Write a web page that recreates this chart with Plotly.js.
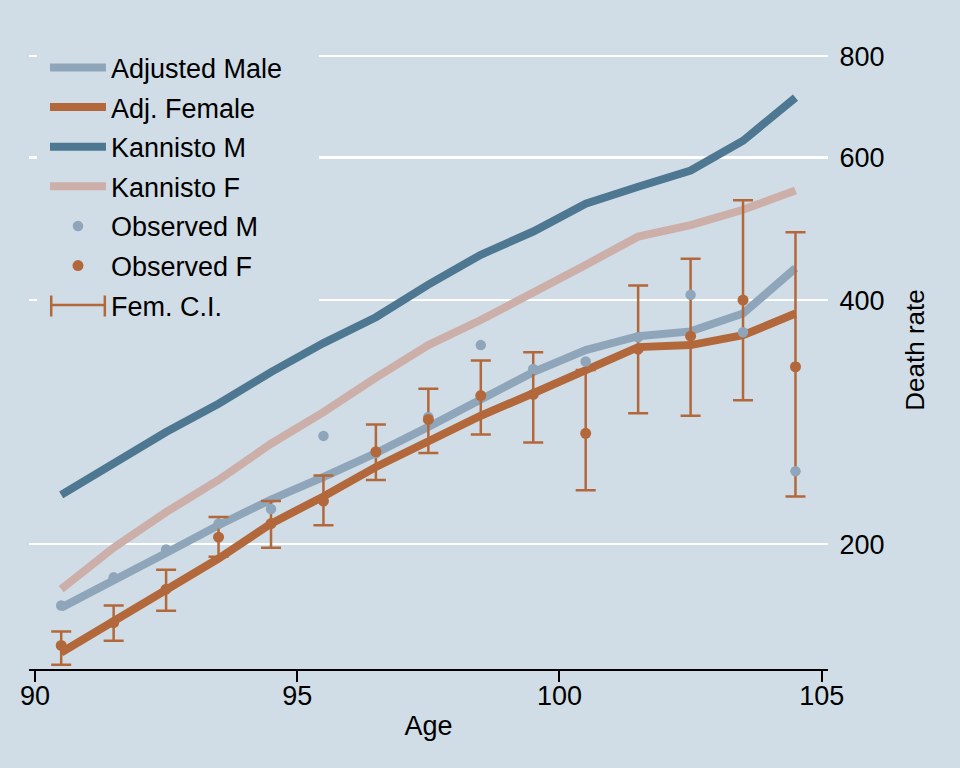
<!DOCTYPE html>
<html>
<head>
<meta charset="utf-8">
<script src="https://cdn.plot.ly/plotly-3.0.1.min.js"></script>
<style>
  html, body { margin: 0; padding: 0; background: #d0dde6; }
  #chart { width: 960px; height: 768px; }
</style>
</head>
<body>
<div id="chart"></div>
<script>
// ---- data ----
const age = [90.5, 91.5, 92.5, 93.5, 94.5, 95.5, 96.5, 97.5, 98.5, 99.5, 100.5, 101.5, 102.5, 103.5, 104.5];

const adjustedMale = [167, 181, 195, 211, 227, 242, 259, 279, 302, 326, 347, 361, 366, 385, 438];
const adjFemale    = [147, 161, 176, 192, 212, 229, 249, 268, 288, 307, 328, 350, 352, 362, 385];
const kannistoM    = [230, 251, 275, 298, 326, 354, 381, 418, 455, 486, 526, 552, 578, 629, 711];
const kannistoF    = [176, 198, 219, 240, 266, 291, 321, 352, 378, 410, 442, 479, 495, 517, 546];
const observedM    = [168, 182, 197, 212, 221, 272, 259, 287, 352, 329, 336, 360, 406, 365, 246];
const observedF    = [150, 160, 176, 204, 212, 226, 260, 285, 305, 306, 274, 348, 361, 400, 331];
const femCILow     = [142, 152, 165.5, 193, 198, 211, 240, 259, 273, 267, 233, 290, 288, 301, 229];
const femCIHigh    = [156, 168, 186, 216, 226, 243, 281, 311, 337, 345, 328, 417, 450, 531, 485];

const xTicks = [90, 95, 100, 105];
const yTicks = [200, 400, 600, 800];
const yTickText = ['200', '400', '600', '800'];

const seriesNames = ['Adjusted Male', 'Adj. Female', 'Kannisto M', 'Kannisto F', 'Observed M', 'Observed F', 'Fem. C.I.'];

// ---- styles ----
const BG = '#d0dde6';
const C_ADJM = '#8fa6ba';
const C_ADJF = '#b3683b';
const C_KM = '#4e7891';
const C_KF = '#ccafa9';
const LW = 8;
const FONT = 'Liberation Sans, Arial, Helvetica, sans-serif';

const ciPlus = femCIHigh.map((h, i) => h - observedF[i]);
const ciMinus = femCILow.map((l, i) => observedF[i] - l);

const traces = [
  { x: age, y: kannistoM, name: seriesNames[2], mode: 'lines', line: { color: C_KM, width: LW }, legendrank: 3, legendgroup: 'g3' },
  { x: age, y: kannistoF, name: seriesNames[3], mode: 'lines', line: { color: C_KF, width: LW }, legendrank: 4, legendgroup: 'g4' },
  { x: age, y: adjustedMale, name: seriesNames[0], mode: 'lines', line: { color: C_ADJM, width: LW }, legendrank: 1, legendgroup: 'g1' },
  { x: age, y: adjFemale, name: seriesNames[1], mode: 'lines', line: { color: C_ADJF, width: LW }, legendrank: 2, legendgroup: 'g2' },
  { x: age, y: observedF, name: seriesNames[6], mode: 'markers', marker: { size: 1, opacity: 0, color: C_ADJF },
    error_y: { type: 'data', symmetric: false, array: ciPlus, arrayminus: ciMinus, color: C_ADJF, thickness: 2.5, width: 10 },
    showlegend: false, hoverinfo: 'skip' },
  { x: [null], y: [null], name: seriesNames[6], mode: 'lines', line: { color: C_ADJF, width: 2.5 }, legendrank: 7, legendgroup: 'g7' },
  { x: age, y: observedM, name: seriesNames[4], mode: 'markers', marker: { size: 10.5, color: C_ADJM }, legendrank: 5, legendgroup: 'g5' },
  { x: age, y: observedF, name: seriesNames[5], mode: 'markers', marker: { size: 11, color: C_ADJF }, legendrank: 6, legendgroup: 'g6' }
];

// legend decorations (paper coords): opaque box hiding the grid behind the legend,
// and the end caps of the "Fem. C.I." legend symbol
const capStyle = { type: 'line', xref: 'paper', yref: 'paper', layer: 'above', line: { color: C_ADJF, width: 2.5 } };
const shapes = [
  { type: 'rect', xref: 'paper', yref: 'paper', layer: 'above', x0: 0.010, x1: 0.3629, y0: 0.544, y1: 0.986,
    fillcolor: BG, line: { width: 0 } },
  Object.assign({}, capStyle, { x0: 0.0278, x1: 0.0278, y0: 0.5525, y1: 0.5854 }),
  Object.assign({}, capStyle, { x0: 0.0949, x1: 0.0949, y0: 0.5525, y1: 0.5854 })
];

const layout = {
  width: 960, height: 768,
  paper_bgcolor: BG, plot_bgcolor: BG,
  margin: { l: 29, r: 132, t: 31, b: 99, pad: 0 },
  font: { family: FONT, size: 26, color: '#000' },
  showlegend: true,
  legend: {
    x: 0.010, y: 0.993, xanchor: 'left', yanchor: 'top',
    bgcolor: 'rgba(0,0,0,0)', borderwidth: 8, bordercolor: 'rgba(0,0,0,0)',
    font: { family: FONT, size: 27, color: '#000' },
    itemwidth: 56, tracegroupgap: 1.5, traceorder: 'grouped'
  },
  shapes: shapes,
  xaxis: {
    range: [89.886, 105.12], tickvals: xTicks, ticktext: xTicks.map(String),
    ticks: 'outside', ticklen: 11, tickwidth: 2, tickcolor: '#000',
    showline: true, linecolor: '#000', linewidth: 2,
    showgrid: false, zeroline: false, ticklabelstandoff: -9,
    tickfont: { family: FONT, size: 27, color: '#000' },
    title: { text: 'Age', font: { family: FONT, size: 27, color: '#000' }, standoff: 6 }
  },
  yaxis: {
    type: 'log', side: 'right', range: [2.147, 2.934],
    tickvals: yTicks, ticktext: yTickText,
    ticks: 'outside', ticklen: 5, tickcolor: 'rgba(0,0,0,0)',
    showline: false, zeroline: false,
    showgrid: true, gridcolor: '#ffffff', gridwidth: 2.5,
    tickfont: { family: FONT, size: 27, color: '#000' },
    title: { text: 'Death rate', font: { family: FONT, size: 26, color: '#000' }, standoff: 22 }
  }
};

Plotly.newPlot('chart', traces, layout, { staticPlot: true, displayModeBar: false });
</script>
</body>
</html>
